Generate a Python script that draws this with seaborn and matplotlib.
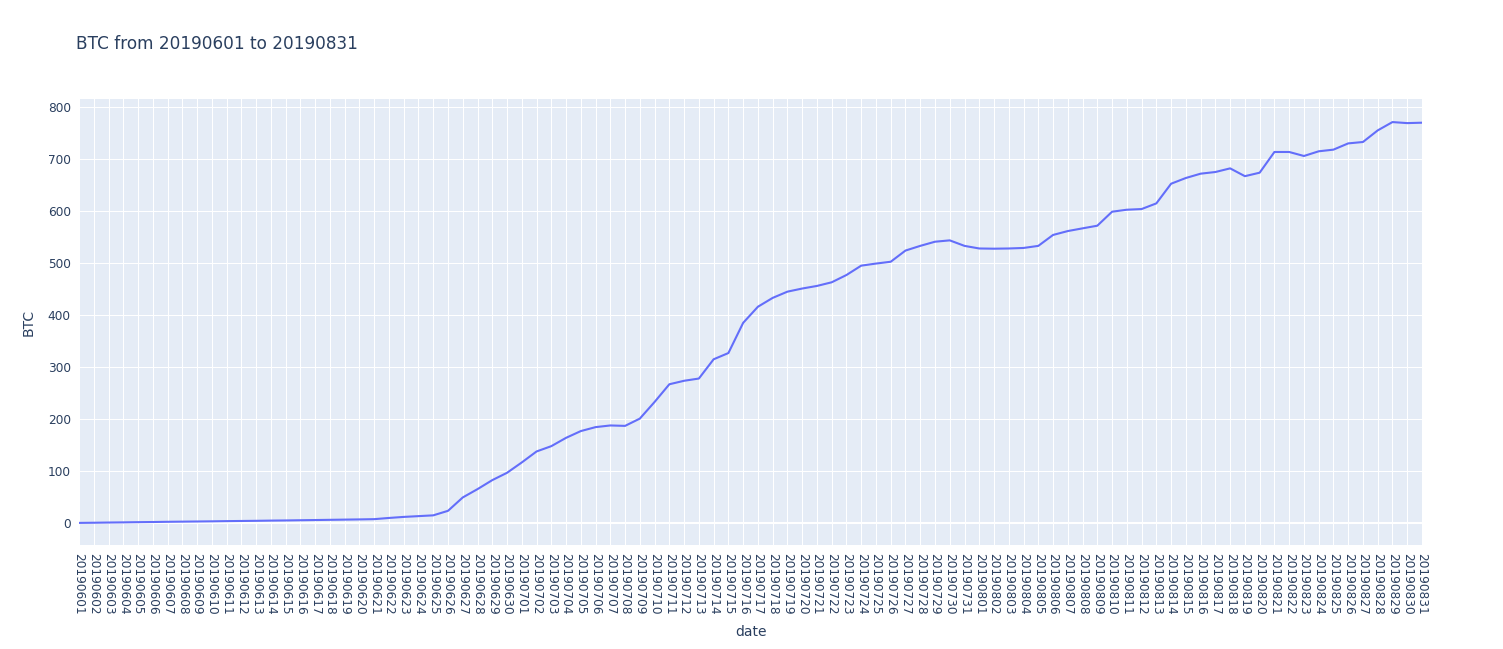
import pandas as pd
import seaborn as sns
import matplotlib.pyplot as plt

# daily dates 20190601 .. 20190831
june = ['201906%02d' % d for d in range(1, 31)]
july = ['201907%02d' % d for d in range(1, 32)]
aug = ['201908%02d' % d for d in range(1, 32)]
dates = june + july + aug

btc_june = [0.5, 0.8, 1.2, 1.5, 1.9, 2.2, 2.6, 2.9, 3.2, 3.5,
            3.9, 4.2, 4.5, 4.9, 5.2, 5.6, 6.0, 6.4, 6.8, 7.2,
            7.7, 10.0, 12.0, 13.5, 15.0, 23.7, 49.4, 65.4, 82.7, 96.8]
btc_july = [116.7, 137.8, 148.0, 164.0, 177.0, 184.6, 187.8, 187.0, 201.0, 233.0,
            267.0, 273.7, 278.0, 315.0, 327.0, 385.0, 416.0, 433.0, 445.0, 451.0,
            456.0, 463.0, 477.0, 495.0, 499.0, 502.5, 524.0, 533.0, 541.0, 543.6,
            533.0]
btc_aug = [528.0, 527.6, 528.0, 529.0, 533.0, 554.0, 561.5, 566.7, 571.8, 598.7,
           602.5, 603.8, 614.7, 652.5, 663.5, 671.8, 675.0, 682.0, 667.0, 673.7,
           713.5, 713.5, 705.8, 714.8, 718.0, 730.0, 732.7, 755.0, 771.0, 769.0,
           769.8]
btc = btc_june + btc_july + btc_aug

df = pd.DataFrame({'date': dates, 'BTC': btc})

text_color = '#2a3f5f'
fig = plt.figure(figsize=(15.03, 6.49), dpi=100)
ax = fig.add_axes([0.0526, 0.160, 0.8935, 0.6875])
ax.set_facecolor('#E5ECF6')

sns.lineplot(data=df, x='date', y='BTC', ax=ax, color='#636EFA', linewidth=1.5, zorder=3)

ax.set_xlim(0, len(dates) - 1)
ax.set_ylim(-42.3, 815.4)
ax.set_yticks(range(0, 801, 100))
ax.grid(True, color='white', linewidth=0.75)
ax.set_axisbelow(True)
ax.axhline(0, color='white', linewidth=1.5, zorder=2)
for s in ax.spines.values():
    s.set_visible(False)

ax.tick_params(axis='both', length=0, colors=text_color, labelsize=8.7)
ax.tick_params(axis='x', pad=6)
ax.tick_params(axis='y', pad=6)
plt.setp(ax.get_xticklabels(), rotation=-90, ha='center', va='top')

ax.set_xlabel('date', fontsize=10, color=text_color, labelpad=7)
ax.set_ylabel('BTC', fontsize=10, color=text_color, labelpad=9)
fig.text(0.0506, 0.932, 'BTC from 20190601 to 20190831', fontsize=12.2,
         color=text_color, va='center', ha='left')

fig.savefig('out.png', dpi=100)
